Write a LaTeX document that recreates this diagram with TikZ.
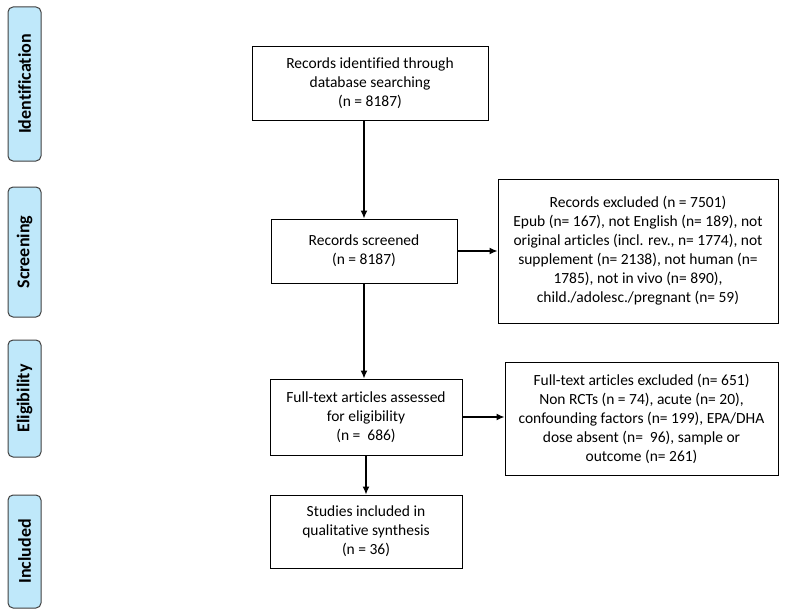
\documentclass[tikz,border=0pt]{standalone}
\usepackage{fontspec}
\setmainfont{Carlito}[Ligatures={NoCommon}]
\usetikzlibrary{arrows.meta}
\begin{document}
\begin{tikzpicture}[x=1pt,y=-1pt,
  boite/.style={draw,line width=1pt,fill=white,align=center,inner sep=2pt,
    font=\fontsize{15.5}{19}\selectfont},
  onglet/.style={draw=black!75,line width=1pt,fill=ongletbleu,rounded corners=5pt,
    rotate=90,minimum height=33pt,inner sep=0pt,
    font=\fontsize{18}{20}\selectfont\bfseries},
  fleche/.style={->,>={Latex[length=8pt,width=7pt]},line width=1.3pt}]
\definecolor{ongletbleu}{RGB}{191,232,250}
\useasboundingbox (0,0) rectangle (786,610);
% Onglets des phases
\node[onglet,minimum width=154pt] (tabid) at (24.5,84) {Identification};
\node[onglet,minimum width=130pt] (tabscr) at (24.5,252) {Screening};
\node[onglet,minimum width=117pt] (tabelig) at (24.5,398.5) {Eligibility};
\node[onglet,minimum width=113pt] (tabincl) at (24.5,551.5) {Included};
% Colonne principale
\node[boite,minimum width=236pt,minimum height=73pt] (ident) at (370,83.5)
  {Records identified through\\database searching\\(n = 8187)};
\node[boite,minimum width=186pt,minimum height=64pt] (screened) at (364,251)
  {Records screened\\(n = 8187)};
\node[boite,minimum width=192pt,minimum height=76pt] (assessed) at (366,417)
  {Full-text articles assessed\\for eligibility\\(n =\ \ 686)};
\node[boite,minimum width=192pt,minimum height=73pt] (included) at (366,531.5)
  {Studies included in\\qualitative synthesis\\(n = 36)};
% Exclusions
\node[boite,minimum width=280pt,minimum height=144pt] (excl) at (638,251)
  {Records excluded (n = 7501)\\Epub (n= 167), not English (n= 189), not\\
   original articles (incl. rev., n= 1774), not\\supplement (n= 2138), not human (n=\\
   1785), not in vivo (n= 890),\\child./adolesc./pregnant (n= 59)};
\node[boite,minimum width=273pt,minimum height=113pt] (exclft) at (641.5,418.5)
  {Full-text articles excluded (n= 651)\\Non RCTs (n = 74), acute (n= 20),\\
   confounding factors (n= 199), EPA/DHA\\dose absent (n=\ \ 96), sample or\\
   outcome (n= 261)};
% Flèches
\draw[fleche] (screened.north |- ident.south) -- (screened.north);
\draw[fleche] (screened.east) -- (excl.west);
\draw[fleche] (screened.south) -- (screened.south |- assessed.north);
\draw[fleche] (assessed.east) -- (assessed.east -| exclft.west);
\draw[fleche] (assessed.south) -- (included.north);
\end{tikzpicture}
\end{document}
